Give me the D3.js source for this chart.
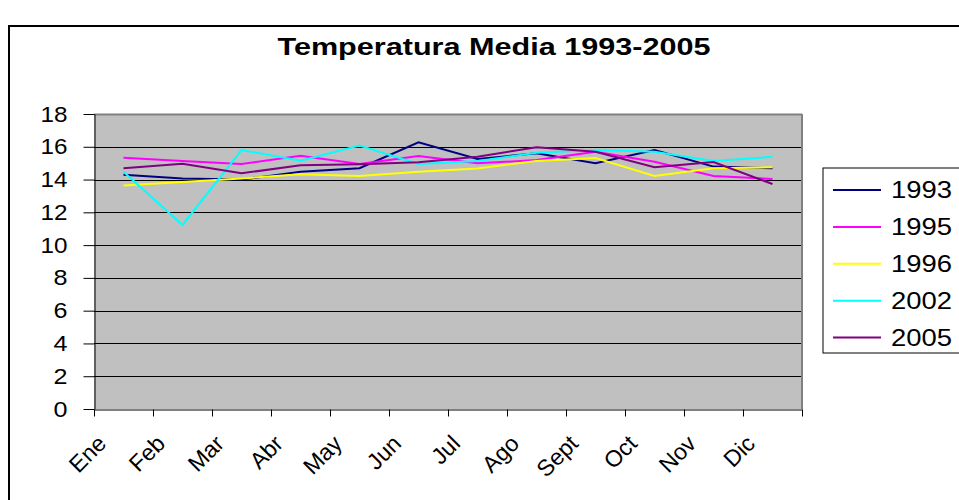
<!DOCTYPE html>
<html>
<head>
<meta charset="utf-8">
<script src="https://cdn.jsdelivr.net/npm/d3@7"></script>
<style>
  body { margin: 0; background: #fff; }
  svg text { font-family: "Liberation Sans", Arial, sans-serif; }
</style>
</head>
<body>
<svg id="chart" width="959" height="500"></svg>
<script>
// datos
var meses = ["Ene", "Feb", "Mar", "Abr", "May", "Jun", "Jul", "Ago", "Sept", "Oct", "Nov", "Dic"];
var anios = ["1993", "1995", "1996", "2002", "2005"];
var t1993 = [14.3, 14.07, 14.0, 14.48, 14.69, 16.27, 15.25, 15.6, 14.99, 15.8, 14.79, 14.69];
var t1995 = [15.33, 15.13, 14.95, 15.45, 14.95, 15.44, 14.99, 15.19, 15.7, 15.09, 14.22, 14.03];
var t1996 = [13.63, 13.85, 14.07, 14.32, 14.22, 14.48, 14.68, 15.13, 15.31, 14.22, 14.69, 14.75];
var t2002 = [14.48, 11.23, 15.8, 15.15, 16.07, 14.95, 15.13, 15.64, 15.8, 15.7, 15.13, 15.39];
var t2005 = [14.69, 14.97, 14.38, 14.87, 14.93, 15.05, 15.39, 15.97, 15.7, 14.75, 15.07, 13.73];
var yTicks = [0, 2, 4, 6, 8, 10, 12, 14, 16, 18];
var colores = ["#000080", "#ff00ff", "#ffff00", "#00ffff", "#800080"];

var series = [t1993, t1995, t1996, t2002, t2005];

var svg = d3.select("#chart");

// marco exterior
svg.append("rect")
    .attr("x", 9).attr("y", 26)
    .attr("width", 1000).attr("height", 520)
    .attr("fill", "#fff")
    .attr("stroke", "#000")
    .attr("stroke-width", 2);

svg.append("text")
    .attr("x", 494).attr("y", 55)
    .attr("text-anchor", "middle")
    .attr("font-size", 24)
    .attr("font-weight", "bold")
    .attr("textLength", 433)
    .attr("lengthAdjust", "spacingAndGlyphs")
    .text("Temperatura Media 1993-2005");

var pLeft = 94, pRight = 802, pTop = 114, pBottom = 409;

var x = d3.scaleBand().domain(meses).range([pLeft, pRight]);
var xb = d3.scaleLinear().domain([0, 12]).range([pLeft, pRight]);
var y = d3.scaleLinear().domain([0, 18]).range([pBottom, pTop]);

// area de trazado
svg.append("rect")
    .attr("x", pLeft).attr("y", pTop)
    .attr("width", pRight - pLeft).attr("height", pBottom - pTop)
    .attr("fill", "#c0c0c0");

svg.append("g")
    .selectAll("line")
    .data(yTicks.slice(1))
    .join("line")
    .attr("x1", pLeft).attr("x2", pRight)
    .attr("y1", d => Math.round(y(d)) + 0.5)
    .attr("y2", d => Math.round(y(d)) + 0.5)
    .attr("stroke", d => d == 18 ? "#808080" : "#000")
    .attr("stroke-width", d => d == 18 ? 2 : 1);

svg.append("line")
    .attr("x1", pRight).attr("x2", pRight)
    .attr("y1", pTop).attr("y2", pBottom)
    .attr("stroke", "#808080").attr("stroke-width", 2);

// ejes
var ejeY = svg.append("g")
    .attr("transform", "translate(" + (pLeft + 0.5) + ",0)")
    .call(d3.axisLeft(y).tickValues(yTicks).tickSize(11).tickSizeOuter(0).tickPadding(16));
ejeY.selectAll("text").attr("font-size", 22).attr("fill", "#000")
    .attr("textLength", d => d >= 10 ? 27 : 14)
    .attr("lengthAdjust", "spacingAndGlyphs");
ejeY.attr("font-family", null);
ejeY.selectAll("line, path").attr("stroke", "#000");

var ejeX = svg.append("g")
    .attr("transform", "translate(0," + (pBottom + 0.5) + ")")
    .call(d3.axisBottom(xb).ticks(12).tickSize(7).tickSizeOuter(0).tickFormat(""));
ejeX.selectAll("line, path").attr("stroke", "#000");

svg.append("g")
    .selectAll("text")
    .data(meses)
    .join("text")
    .attr("text-anchor", "end")
    .attr("font-size", 23)
    .attr("transform", d => "translate(" + (x(d) + x.bandwidth() / 2 - 16) + ",445) rotate(-45)")
    .text(d => d);

// lineas
var linea = d3.line()
    .x((d, i) => x(meses[i]) + x.bandwidth() / 2)
    .y(d => y(d));

svg.append("g")
    .selectAll("path")
    .data(series)
    .join("path")
    .attr("d", linea)
    .attr("fill", "none")
    .attr("stroke", (d, i) => colores[i])
    .attr("stroke-width", 2);

// leyenda
svg.append("rect")
    .attr("x", 823).attr("y", 168)
    .attr("width", 200).attr("height", 185)
    .attr("fill", "#fff")
    .attr("stroke", "#000")
    .attr("stroke-width", 1);

var ley = svg.append("g")
    .selectAll("g")
    .data(anios)
    .join("g")
    .attr("transform", (d, i) => "translate(0," + (190 + i * 36.9) + ")");

ley.append("line")
    .attr("x1", 833).attr("x2", 881)
    .attr("stroke", (d, i) => colores[i])
    .attr("stroke-width", 2);

ley.append("text")
    .attr("x", 891).attr("y", 8)
    .attr("font-size", 23)
    .attr("textLength", 61)
    .attr("lengthAdjust", "spacingAndGlyphs")
    .text(d => d);
</script>
</body>
</html>
